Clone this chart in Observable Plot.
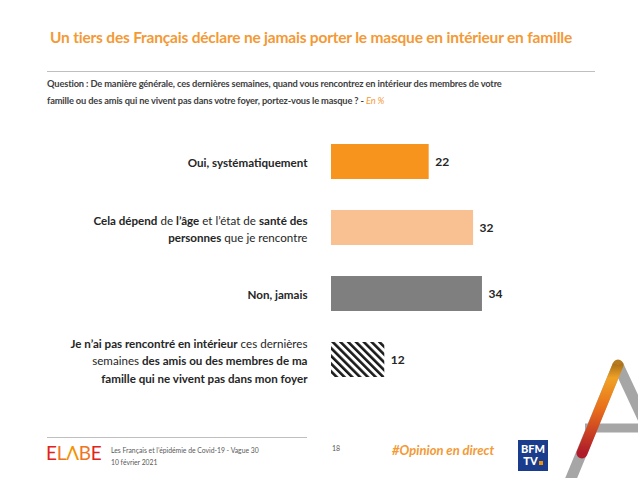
<!DOCTYPE html>
<html><head><meta charset="utf-8">
<script src="https://cdn.jsdelivr.net/npm/d3@7"></script>
<script src="https://cdn.jsdelivr.net/npm/@observablehq/plot@0.6"></script>
<style>
body{margin:0;width:638px;height:478px;overflow:hidden;background:#fff;font-family:Lato,"Open Sans",sans-serif;position:relative}
#title{position:absolute;left:50px;top:28px;color:#F39A36;font-weight:bold;font-size:15.5px;white-space:nowrap;letter-spacing:-0.2px}
#rule1{position:absolute;left:47px;top:71px;width:548px;height:1px;background:#BFBFBF}
#question{position:absolute;left:47px;top:75px;width:580px;font-size:9.3px;font-weight:bold;color:#404040;line-height:17px;white-space:nowrap;letter-spacing:-0.15px}
#question i{color:#F39A36;font-weight:normal}
#chart{position:absolute;left:0;top:120px}
#rule2{position:absolute;left:47px;top:437px;width:260px;height:1px;background:#BFBFBF}
#elabe{position:absolute;left:46px;top:441px;font-size:19px;font-weight:normal;letter-spacing:-0.3px}
#src{position:absolute;left:111px;top:444px;font-size:6.8px;color:#595959;line-height:12px}
#page{position:absolute;left:332px;top:444px;font-size:7px;color:#595959}
#hash{position:absolute;left:392px;top:442px;font-size:13px;font-weight:bold;font-style:italic;color:#F39A36}
#bfm{position:absolute;left:518px;top:440px;width:30px;height:31px;background:#1B3C8C;color:#fff;font-weight:900;font-size:11px;line-height:12px;text-align:center;padding-top:3px;box-sizing:border-box}
#bfm span{display:inline-block;width:4px;height:4px;background:#F39200;margin-left:1px}
#deco{position:absolute;left:555px;top:340px}
</style></head>
<body>
<div id="title">Un tiers des Français déclare ne jamais porter le masque en intérieur en famille</div>
<div id="rule1"></div>
<div id="question">Question : De manière générale, ces dernières semaines, quand vous rencontrez en intérieur des membres de votre<br>famille ou des amis qui ne vivent pas dans votre foyer, portez-vous le masque ? - <i>En %</i></div>
<div id="chart"></div>
<div id="rule2"></div>
<div id="elabe"><span style="color:#E2231A">E</span><span style="color:#EE7623">L</span><span style="color:#F39200">Λ</span><span style="color:#EE7623">B</span><span style="color:#E2231A">E</span></div>
<div id="src">Les Français et l’épidémie de Covid-19 - Vague 30<br>10 février 2021</div>
<div id="page">18</div>
<div id="hash">#Opinion en direct</div>
<div id="bfm">BFM<br>TV<span></span></div>
<svg id="deco" width="83" height="138">
  <defs><linearGradient id="ag" x1="0" y1="1" x2="0" y2="0">
    <stop offset="0" stop-color="#B01020"/><stop offset="0.5" stop-color="#EE6A10"/><stop offset="0.85" stop-color="#F7A21B"/><stop offset="1" stop-color="#B07010"/></linearGradient></defs>
  <line x1="63" y1="25" x2="105" y2="115" stroke="#A6A6A6" stroke-width="11"/>
  <line x1="30" y1="88" x2="90" y2="88" stroke="#A6A6A6" stroke-width="9"/>
  <line x1="63" y1="25" x2="5" y2="165" stroke="#A6A6A6" stroke-width="11"/>
  <line x1="27" y1="113" x2="63" y2="25" stroke="url(#ag)" stroke-width="11" stroke-linecap="round" opacity="0.92"/>
</svg>
<script>
const categories = [
  "Oui, systématiquement",
  "Cela dépend de l’âge et l’état de santé des personnes que je rencontre",
  "Non, jamais",
  "Je n’ai pas rencontré en intérieur ces dernières semaines des amis ou des membres de ma famille qui ne vivent pas dans mon foyer"
];
const values = [22, 32, 34, 12];
const barColors = ["#F7941D", "#F9C192", "#7F7F7F", "url(#hatch)"];
const labelLines = [
  ["Oui, systématiquement"],
  ["Cela dépend de l’âge et l’état de santé des", "personnes que je rencontre"],
  ["Non, jamais"],
  ["Je n’ai pas rencontré en intérieur ces dernières", "semaines des amis ou des membres de ma", "famille qui ne vivent pas dans mon foyer"]
];
const boldParts = [
  ["Oui, systématiquement"],
  ["Cela dépend", "l’âge", "santé des", "personnes"],
  ["Non, jamais"],
  ["Je n’ai pas rencontré en intérieur", "des amis ou des membres de ma", "famille qui ne vivent pas dans mon foyer"]
];

const data = categories.map((c, i) => ({category: c, value: values[i], color: barColors[i], lines: labelLines[i]}));

const plot = Plot.plot({
  width: 638,
  height: 278,
  marginLeft: 331,
  marginRight: 85,
  marginTop: 23,
  marginBottom: 20,
  style: {fontFamily: "Lato, 'Open Sans', sans-serif", color: "#262626"},
  x: {domain: [0, 50], axis: null},
  y: {domain: categories, axis: null, padding: 0.474, paddingOuter: 0},
  color: {type: "identity"},
  marks: [
    Plot.barX(data, {x: "value", y: "category", fill: "color"}),
    Plot.text(data, {x: "value", y: "category", text: d => String(d.value), dx: 6, textAnchor: "start", fontWeight: "bold", fontSize: 12, fill: "#262626"}),
    Plot.text(data, {x: 0, y: "category", text: d => d.lines.join("\n"), dx: -24, textAnchor: "end", fontSize: 11.6, lineHeight: 1.47, fill: "#262626"})
  ]
});

// hatch pattern
const svg = d3.select(plot);
const pat = svg.insert("defs", ":first-child").append("pattern")
  .attr("id", "hatch").attr("patternUnits", "userSpaceOnUse")
  .attr("width", 5.5).attr("height", 5.5).attr("patternTransform", "rotate(-45)");
pat.append("rect").attr("width", 5.5).attr("height", 5.5).attr("fill", "#fff");
pat.append("line").attr("x1", 1.3).attr("y1", 0).attr("x2", 1.3).attr("y2", 5.5).attr("stroke", "#1a1a1a").attr("stroke-width", 2.6);

// mixed bold segments
function segments(line, bolds) {
  const out = [];
  let rest = line;
  while (rest.length) {
    let best = -1, bp = null;
    for (const b of bolds) { const k = rest.indexOf(b); if (k >= 0 && (best < 0 || k < best)) { best = k; bp = b; } }
    if (best < 0) { out.push([rest, false]); break; }
    if (best > 0) out.push([rest.slice(0, best), false]);
    out.push([bp, true]);
    rest = rest.slice(best + bp.length);
  }
  return out;
}
function fillSegs(el, line, bolds) {
  const sel = d3.select(el);
  sel.text(null);
  for (const [t, b] of segments(line, bolds)) sel.append("tspan").attr("font-weight", b ? "bold" : "normal").text(t);
}
svg.selectAll("text").each(function() {
  const content = this.textContent;
  const idx = labelLines.findIndex(ls => ls.join("") === content);
  if (idx < 0) return;
  const tspans = Array.from(this.children).filter(n => n.tagName.toLowerCase() === "tspan");
  if (tspans.length === labelLines[idx].length && tspans.length > 1) tspans.forEach((ts, j) => fillSegs(ts, labelLines[idx][j], boldParts[idx]));
  else fillSegs(this, labelLines[idx][0], boldParts[idx]);
});

document.getElementById("chart").appendChild(plot);
</script>
</body></html>
